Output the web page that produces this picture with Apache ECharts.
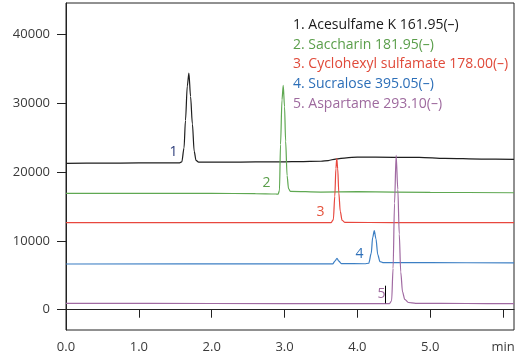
<!DOCTYPE html>
<html><head><meta charset="utf-8">
<script src="https://cdn.jsdelivr.net/npm/echarts@6/dist/echarts.min.js"></script>
<style>html,body{margin:0;padding:0;background:#fff}#c{width:523px;height:361px}</style>
</head><body><div id="c"></div>
<script>
var seriesNames = ['1. Acesulfame K 161.95(\u2013)','2. Saccharin 181.95(\u2013)','3. Cyclohexyl sulfamate 178.00(\u2013)','4. Sucralose 395.05(\u2013)','5. Aspartame 293.10(\u2013)'];
var lineColors = ['#1e1e1e','#5fa852','#e8473e','#3c7fc4','#a06aa2'];
var textColors = ['#1a1a1a','#5a9e4a','#e04a3a','#2d6fb8','#9e6a9e'];
var peakLabels = ['1','2','3','4','5'];
var labelColors = ['#2c3c7a','#5a9e4a','#e5533d','#2d6fb8','#9e6a9e'];
var labelPos = [[1.477,22920],[2.753,18420],[3.494,14200],[4.03,8100],[4.33,2280]];
var xTicks = [0,1,2,3,4,5,6];
var xTickLabels = ['0.0','1.0','2.0','3.0','4.0','5.0','min'];
var yTicks = [0,10000,20000,30000,40000];
var markerLine = [[4.385,930],[4.385,3490]];

var acesulfame = [[0,21280],[0.5,21300],[1.0,21330],[1.5,21350],[1.56,21350],[1.59,21500],[1.62,23500],[1.64,27500],[1.665,32500],[1.687,34400],[1.71,31000],[1.735,27000],[1.76,23000],[1.785,21700],[1.82,21450],[2.2,21450],[2.6,21480],[3.0,21500],[3.2,21520],[3.5,21580],[3.6,21680],[3.7,21900],[3.85,22080],[4.0,22180],[4.5,22150],[4.85,22150],[5.2,22000],[5.7,21900],[6.15,21850]];
var saccharin = [[0,16920],[1.0,16920],[2.0,16900],[2.6,16880],[2.88,16820],[2.91,16780],[2.93,17300],[2.945,24000],[2.965,30500],[2.982,32600],[3.0,29500],[3.015,24500],[3.035,19500],[3.055,17600],[3.08,17200],[3.5,17100],[4.0,17150],[5.0,17050],[6.15,17000]];
var cyclamate = [[0,12650],[3.0,12650],[3.64,12660],[3.67,13100],[3.69,16500],[3.705,20500],[3.717,21950],[3.73,20500],[3.745,17000],[3.765,14300],[3.79,13000],[3.83,12700],[4.5,12650],[6.15,12650]];
var sucralose = [[0,6640],[3.0,6650],[3.66,6650],[3.695,7100],[3.72,7470],[3.745,7050],[3.78,6700],[4.1,6680],[4.156,6750],[4.19,8200],[4.21,10500],[4.232,11480],[4.255,10300],[4.28,8000],[4.31,7000],[4.35,6850],[5.0,6830],[6.15,6820]];
var aspartame = [[0,930],[2.0,900],[4.0,880],[4.44,890],[4.47,1300],[4.49,6000],[4.51,15500],[4.532,22450],[4.555,17500],[4.575,11000],[4.595,5500],[4.62,2600],[4.65,1500],[4.7,1050],[4.8,930],[5.5,900],[6.15,880]];
var allData = [acesulfame, saccharin, cyclamate, sucralose, aspartame];

var font = '"Open Sans", "Noto Sans", sans-serif';
var chart = echarts.init(document.getElementById('c'), null, {renderer:'canvas'});
var series = allData.map(function(d,i){
  var s = {
    name: seriesNames[i], type:'line', data:d, showSymbol:false, symbol:'none',
    smooth:0.3, smoothMonotone:'x', animation:false,
    lineStyle:{color:lineColors[i], width:1.2}, itemStyle:{color:lineColors[i]},
    markPoint:{symbol:'circle', symbolSize:1, silent:true, animation:false,
      itemStyle:{color:'rgba(0,0,0,0)'},
      label:{show:true, position:'inside', formatter:peakLabels[i], color:labelColors[i], fontSize:14, fontFamily:font},
      data:[{coord:labelPos[i]}]}
  };
  if(i===4){
    s.markLine = {symbol:'none', silent:true, animation:false, label:{show:false},
      lineStyle:{color:'#000', width:1, type:'solid'},
      data:[[{coord:markerLine[0]},{coord:markerLine[1]}]]};
  }
  return s;
});
chart.setOption({
  animation:false,
  backgroundColor:'#fff',
  grid:{left:66, right:9, top:3, bottom:31, show:true, borderColor:'#222', borderWidth:1, backgroundColor:'transparent'},
  legend:{show:true, orient:'vertical', left:283, top:13, icon:'rect', itemWidth:0, itemHeight:14, itemGap:5.7,
    selectedMode:false,
    textStyle:{fontSize:14, fontFamily:font},
    data:seriesNames.map(function(n,i){return {name:n, textStyle:{color:textColors[i]}};})},
  xAxis:{type:'value', min:0, max:6.15,
    axisLine:{show:true, lineStyle:{color:'#222', width:1}},
    axisTick:{show:true, length:8, customValues:xTicks, lineStyle:{color:'#222'}},
    axisLabel:{customValues:xTicks, margin:11, color:'#3a3a3a', fontSize:13, fontFamily:font,
      formatter:function(v){var k=xTicks.indexOf(v); return k>=0?xTickLabels[k]:'';}},
    splitLine:{show:false}},
  yAxis:{type:'value', min:-2950, max:44580,
    axisLine:{show:true, lineStyle:{color:'#222', width:1}},
    axisTick:{show:true, length:9, customValues:yTicks, lineStyle:{color:'#222'}},
    axisLabel:{customValues:yTicks, margin:16, color:'#3a3a3a', fontSize:13, fontFamily:font,
      formatter:function(v){return String(Math.round(v));}},
    splitLine:{show:false}},
  series:series
});
</script></body></html>
